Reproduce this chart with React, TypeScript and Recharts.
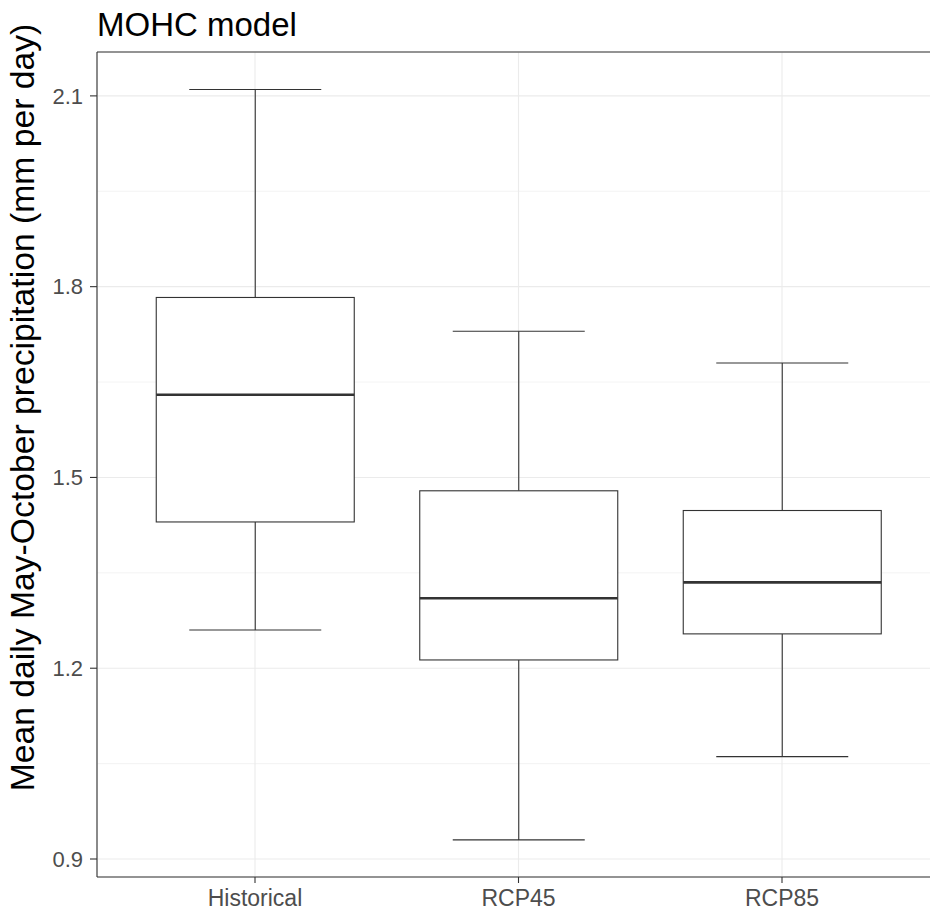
import React from "react";
import { ComposedChart, Bar, XAxis, YAxis, CartesianGrid, ReferenceLine } from "recharts";

const categories = ["Historical", "RCP45", "RCP85"];
const whiskerLow = [1.26, 0.93, 1.061];
const lowerQuartile = [1.43, 1.213, 1.254];
const medians = [1.63, 1.31, 1.335];
const upperQuartile = [1.783, 1.479, 1.448];
const whiskerHigh = [2.11, 1.73, 1.68];

const yTicks = [0.9, 1.2, 1.5, 1.8, 2.1];
const yMinorTicks = [1.05, 1.35, 1.65, 1.95];
const yDomain = [0.8717, 2.169];

const FONT = '"Liberation Sans", Arial, sans-serif';
const INK = "#333333";

const data = categories.map((name, i) => ({
  name,
  range: [whiskerLow[i], whiskerHigh[i]],
  low: whiskerLow[i],
  q1: lowerQuartile[i],
  median: medians[i],
  q3: upperQuartile[i],
  high: whiskerHigh[i],
}));

// draws one box from the range bar Recharts positioned (low..high)
function BoxShape(props: any) {
  const { x, y, width, height, payload } = props;
  if (!payload || width == null) return null;
  const top = Math.min(y, y + height);
  const bottom = Math.max(y, y + height);
  const { low, q1, median, q3, high } = payload;
  const toY = (v: number) => bottom - ((v - low) / (high - low)) * (bottom - top);
  const cx = x + width / 2;
  const capHalf = width / 3;

  return (
    <g>
      <line x1={cx} x2={cx} y1={toY(high)} y2={toY(q3)} stroke={INK} strokeWidth={1.1} />
      <line x1={cx} x2={cx} y1={toY(q1)} y2={toY(low)} stroke={INK} strokeWidth={1.1} />
      <line x1={cx - capHalf} x2={cx + capHalf} y1={toY(high)} y2={toY(high)} stroke={INK} strokeWidth={1.1} />
      <line x1={cx - capHalf} x2={cx + capHalf} y1={toY(low)} y2={toY(low)} stroke={INK} strokeWidth={1.1} />
      <rect
        x={x}
        y={toY(q3)}
        width={width}
        height={toY(q1) - toY(q3)}
        fill="#ffffff"
        stroke={INK}
        strokeWidth={1.1}
      />
      <line x1={x} x2={x + width} y1={toY(median)} y2={toY(median)} stroke={INK} strokeWidth={2.6} />
    </g>
  );
}

function YTitle(props: any) {
  const vb = props.viewBox || { x: 0, y: 52, width: 97, height: 825 };
  const tx = vb.x + 34;
  // the title sits a little above the panel centre in the original
  const ty = vb.y + vb.height / 2 - 57;
  return (
    <text
      x={tx}
      y={ty}
      transform={`rotate(-90, ${tx}, ${ty})`}
      textAnchor="middle"
      fontFamily={FONT}
      fontSize={33.7}
      fill="#000000"
    >
      Mean daily May-October precipitation (mm per day)
    </text>
  );
}

export default function App() {
  return (
    <div
      style={{
        position: "fixed",
        top: 0,
        left: 0,
        width: 930,
        height: 915,
        overflow: "hidden",
        background: "#ffffff",
      }}
    >
      <ComposedChart
        width={960}
        height={915}
        data={data}
        margin={{ top: 52, right: 20, bottom: 0, left: 0 }}
      >
        <CartesianGrid stroke="#ebebeb" strokeWidth={1.1} />
        <CartesianGrid
          stroke="#ebebeb"
          strokeWidth={0.6}
          vertical={false}
          horizontalValues={yMinorTicks}
        />
        <XAxis
          dataKey="name"
          type="category"
          padding={{ left: 26.25, right: 26.25 }}
          height={38}
          tickSize={6}
          tickMargin={7}
          axisLine={{ stroke: INK, strokeWidth: 1.1 }}
          tickLine={{ stroke: INK, strokeWidth: 1.1 }}
          tick={{ fontFamily: FONT, fontSize: 23, fill: "#4d4d4d" }}
          interval={0}
        />
        <YAxis
          type="number"
          domain={yDomain}
          allowDataOverflow
          ticks={yTicks}
          width={97}
          tickSize={7}
          tickMargin={7}
          tickFormatter={(v: number) => v.toFixed(1)}
          axisLine={{ stroke: INK, strokeWidth: 1.1 }}
          tickLine={{ stroke: INK, strokeWidth: 1.1 }}
          tick={{ fontFamily: FONT, fontSize: 22, fill: "#4d4d4d" }}
          label={<YTitle />}
        />
        <Bar dataKey="range" barSize={198} shape={<BoxShape />} isAnimationActive={false} />
        {/* top edge of the panel border */}
        <ReferenceLine y={yDomain[1]} stroke={INK} strokeWidth={1.2} ifOverflow="visible" />
      </ComposedChart>
      <svg
        width={930}
        height={50}
        style={{ position: "absolute", top: 0, left: 0, pointerEvents: "none" }}
      >
        <text x={97} y={36} fontFamily={FONT} fontSize={33} fill="#000000">
          MOHC model
        </text>
      </svg>
    </div>
  );
}
